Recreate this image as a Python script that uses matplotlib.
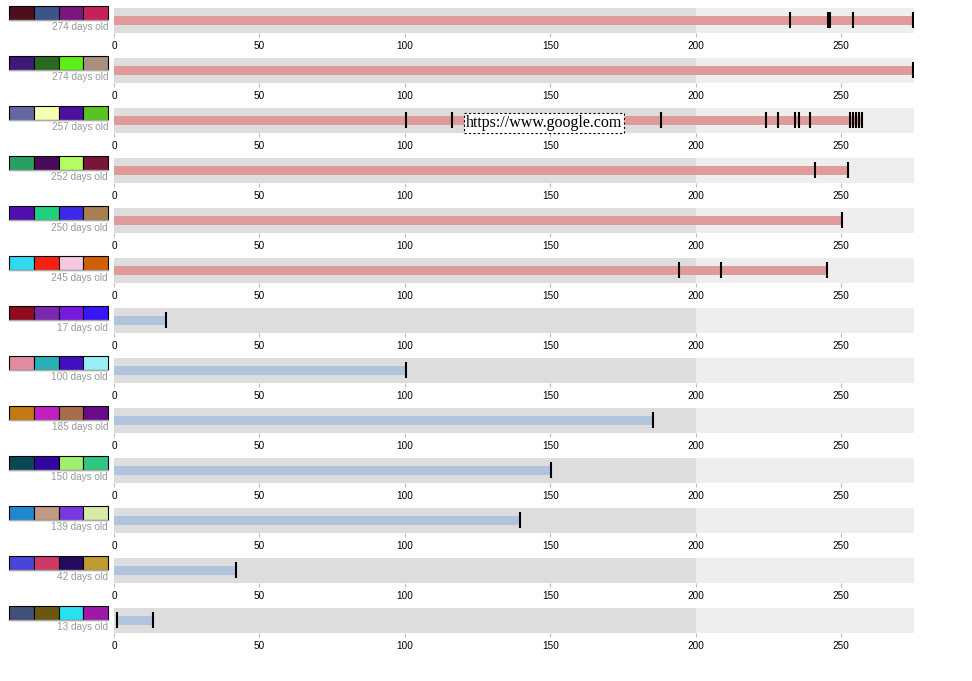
import matplotlib.pyplot as plt

plt.rcParams['font.family'] = ['Liberation Sans', 'DejaVu Sans']

# age of each item in days
days = [274, 274, 257, 252, 250, 245, 17, 100, 185, 150, 139, 42, 13]

# bar extent per row
bar_start = [0, 0, 0, 0, 0, 0, 0, 0, 0, 0, 0, 0, 0.9]
bar_end = [274.6, 274.6, 257.1, 252.3, 250.1, 245.2, 17.9, 100.4, 185.3, 150.2, 139.6, 41.9, 13.5]

# event marks on each row
markers = [
    [232.3, 245.4, 246.1, 254.0, 274.6],
    [274.6],
    [100.3, 116.1, 188.2, 224.2, 228.1, 234.2, 235.6, 239.1, 253.0, 254.0, 255.1, 256.1, 257.1],
    [241.1, 252.3],
    [250.1],
    [194.1, 208.8, 245.2],
    [17.9],
    [100.4],
    [185.3],
    [150.2],
    [139.6],
    [41.9],
    [0.9, 13.5],
]

old = [True] * 6 + [False] * 7

swatches = [
    ['#4f0f1a', '#3a5588', '#7a1680', '#c8205a'],
    ['#3e1a78', '#2a6a20', '#5cf018', '#a89080'],
    ['#6468a0', '#f8ffb0', '#4c10a0', '#58c420'],
    ['#2aa060', '#4a0a5a', '#b4fc60', '#7a1438'],
    ['#5010b0', '#20d080', '#3a2ae8', '#a88050'],
    ['#30d8f0', '#f82010', '#f4c8e0', '#d06008'],
    ['#900a20', '#7a28b0', '#7818e0', '#3a14f8'],
    ['#e08ca0', '#28b0b8', '#4010c0', '#98f0f4'],
    ['#c07a10', '#c020c0', '#a86c48', '#6a0c88'],
    ['#0a4858', '#3008a0', '#a0f070', '#30c880'],
    ['#2088d0', '#c09884', '#7838e0', '#d8eaa8'],
    ['#4a44d8', '#d03868', '#240a60', '#c09a30'],
    ['#405078', '#6a5810', '#28e0f0', '#a018a8'],
]

W, H = 972, 681
fig = plt.figure(figsize=(W / 100, H / 100), dpi=100)

for i in range(len(days)):
    top = 8 + 50 * i

    # timeline row
    ax = fig.add_axes([114 / W, 1 - (top + 25) / H, 800 / W, 25 / H])
    ax.set_xlim(0, 275)
    ax.set_ylim(0, 1)
    ax.axvspan(0, 200, color='#dddddd', lw=0)
    ax.axvspan(200, 275, color='#eeeeee', lw=0)
    ax.barh(0.5, bar_end[i] - bar_start[i], left=bar_start[i], height=0.36,
            color='#df9a9a' if old[i] else '#b0c4de')
    ax.vlines(markers[i], 0.2, 0.84, color='black', lw=1.5)
    ax.set_xticks(range(0, 251, 50))
    ax.set_yticks([])
    for s in ax.spines.values():
        s.set_visible(False)
    ax.tick_params(axis='x', length=3, width=0.8, color='#bbbbbb',
                   labelsize=7.2, pad=2.5)

    if i == 2:
        ax.text(147.7, 0.4, 'https://www.google.com', ha='center', va='center',
                family='Liberation Serif', fontsize=11.5, zorder=5,
                bbox=dict(boxstyle='square,pad=0.12', fc='white', ec='black',
                          ls=(0, (2, 2)), lw=0.8))

    # colour swatches
    sx = fig.add_axes([9 / W, 1 - (top - 2 + 14) / H, 99 / W, 14 / H])
    sx.bar(range(4), 1, width=1, color=swatches[i], edgecolor='black',
           lw=0.8, clip_on=False)
    sx.set_xlim(-0.5, 3.5)
    sx.set_ylim(0, 1)
    sx.axis('off')
    sx.axhline(0, color='#aaaaaa', lw=1, clip_on=False)
    sx.text(1, -0.75, f'{days[i]} days old', transform=sx.transAxes,
            ha='right', va='baseline', fontsize=7.2, color='#999999')

fig.savefig('out.png', dpi=100)
